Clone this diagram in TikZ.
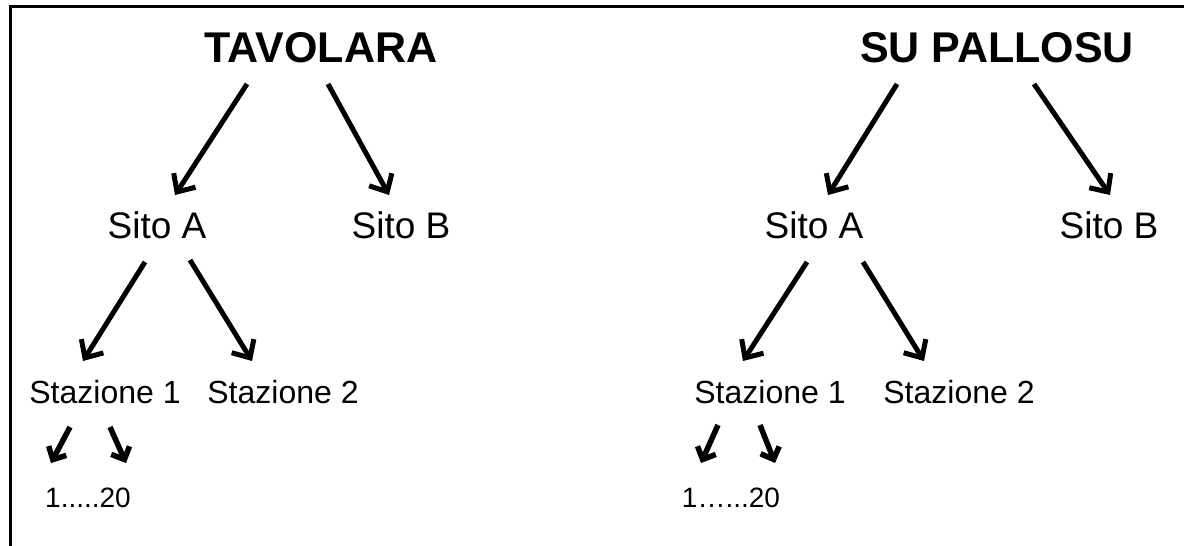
\documentclass[tikz,border=0pt]{standalone}
\usepackage{fontspec}
\setmainfont{Liberation Sans}
\usetikzlibrary{arrows.meta}
\begin{document}
\begin{tikzpicture}[x=1pt,y=-1pt,
  title/.style={font=\fontsize{43}{43}\selectfont\bfseries, inner sep=0pt},
  site/.style={font=\fontsize{37}{37}\selectfont, inner sep=0pt},
  stat/.style={font=\fontsize{32}{32}\selectfont, inner sep=0pt},
  num/.style={font=\fontsize{28}{28}\selectfont, inner sep=0pt},
  arr/.style={line width=5pt, -{Straight Barb[length=14pt,width=26pt,line width=5pt]}},
  sarr/.style={line width=5.5pt, -{Straight Barb[length=10pt,width=20pt,line width=5.5pt]}},
  frame/.style={line width=3pt}]
\useasboundingbox (0,0) rectangle (1184,546);
% frame (top and left only)
\coordinate (fa) at (10,546);
\coordinate (fb) at (10,6);
\coordinate (fc) at (1184,6);
\draw[frame] (fa) -- (fb) -- (fc);
% texts
\node[title] (t1) at (321,48) {TAVOLARA};
\node[title] (t2) at (997,48) {SU PALLOSU};
\node[site] (a1) at (157,225) {Sito A};
\node[site] (b1) at (401,225) {Sito B};
\node[site] (a2) at (814,225) {Sito A};
\node[site] (b2) at (1109,225) {Sito B};
\node[stat] (s11) at (105,392) {Stazione 1};
\node[stat] (s12) at (283,392) {Stazione 2};
\node[stat] (s21) at (770,392) {Stazione 1};
\node[stat] (s22) at (959,392) {Stazione 2};
\node[num] (n1) at (88,498) {1.....20};
\node[num] (n2) at (731,498) {1…...20};
% arrow end points
\coordinate (p1s) at (247,84); \coordinate (p1e) at (175,195);
\coordinate (p2s) at (328,84); \coordinate (p2e) at (389,195);
\coordinate (p3s) at (897,84); \coordinate (p3e) at (828,195);
\coordinate (p4s) at (1034,84); \coordinate (p4e) at (1110,195);
\coordinate (q1s) at (145,262); \coordinate (q1e) at (83,361);
\coordinate (q2s) at (190,260); \coordinate (q2e) at (252,361);
\coordinate (q3s) at (807,262); \coordinate (q3e) at (743,361);
\coordinate (q4s) at (863,262); \coordinate (q4e) at (924,361);
\coordinate (r1s) at (70,427); \coordinate (r1e) at (51,463);
\coordinate (r2s) at (110,427); \coordinate (r2e) at (126,463);
\coordinate (r3s) at (718,425); \coordinate (r3e) at (701,463);
\coordinate (r4s) at (760,425); \coordinate (r4e) at (775,463);
\draw[arr] (p1s) -- (p1e);
\draw[arr] (p2s) -- (p2e);
\draw[arr] (p3s) -- (p3e);
\draw[arr] (p4s) -- (p4e);
\draw[arr] (q1s) -- (q1e);
\draw[arr] (q2s) -- (q2e);
\draw[arr] (q3s) -- (q3e);
\draw[arr] (q4s) -- (q4e);
\draw[sarr] (r1s) -- (r1e);
\draw[sarr] (r2s) -- (r2e);
\draw[sarr] (r3s) -- (r3e);
\draw[sarr] (r4s) -- (r4e);
\end{tikzpicture}
\end{document}
